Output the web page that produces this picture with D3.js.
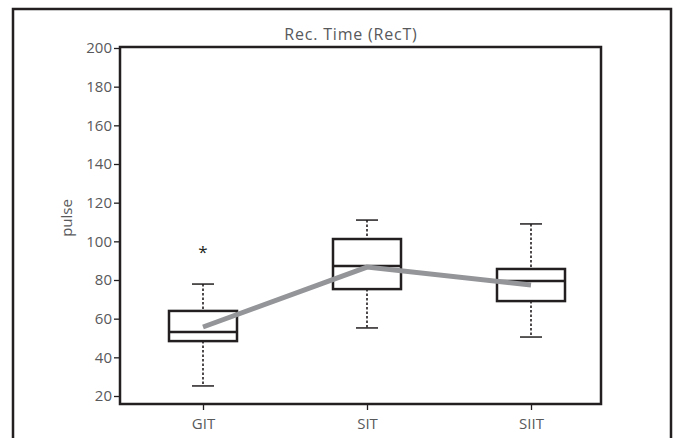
<!DOCTYPE html>
<html>
<head>
<meta charset="utf-8">
<script src="https://cdn.jsdelivr.net/npm/d3@7"></script>
<style>
  html, body { margin: 0; padding: 0; background: #fff; }
  svg text { font-family: "Open Sans", "Noto Sans", sans-serif; }
</style>
</head>
<body>
<svg id="chart" width="683" height="438"></svg>
<script>
const categories = ["GIT", "SIT", "SIIT"];
const whiskerLow  = [25.2, 55.2, 50.5];
const boxLow      = [48.4, 75.3, 69.1];
const medians     = [53.1, 87.2, 79.5];
const boxHigh     = [64, 101.2, 85.7];
const whiskerHigh = [77.9, 111, 109];
const means       = [55.7, 86.7, 77.4];
const outliers    = [{cat: "GIT", value: 95.5}];
const yTicks      = [20, 40, 60, 80, 100, 120, 140, 160, 180, 200];
const title = "Rec. Time (RecT)";
const yLabel = "pulse";

const svg = d3.select("#chart");
const frame = {left: 120, right: 601, top: 47, bottom: 404};
const dark = "#231f20";
const textCol = "#58595b";

// outer border
svg.append("rect").attr("x", 13).attr("y", 9).attr("width", 658).attr("height", 440)
  .attr("fill", "none").attr("stroke", dark).attr("stroke-width", 2.5);

const x = d3.scalePoint().domain(categories).range([121, 613]).padding(0.5);
const y = d3.scaleLinear().domain([20, 200]).range([396, 48]);

// plot frame
svg.append("rect").attr("x", frame.left).attr("y", frame.top)
  .attr("width", frame.right - frame.left).attr("height", frame.bottom - frame.top)
  .attr("fill", "none").attr("stroke", dark).attr("stroke-width", 2.5);

// y axis ticks
const yAxis = d3.axisLeft(y).tickValues(yTicks).tickSize(6).tickPadding(2);
const gy = svg.append("g").attr("transform", `translate(${frame.left},0)`).call(yAxis);
gy.select(".domain").remove();
gy.selectAll(".tick line").attr("stroke", dark).attr("stroke-width", 1.3);
gy.selectAll(".tick text").attr("fill", textCol).attr("font-size", 15).attr("font-family", "Open Sans");

// x axis ticks
const xAxis = d3.axisBottom(x).tickSize(6).tickPadding(8);
const gx = svg.append("g").attr("transform", `translate(0,${frame.bottom})`).call(xAxis);
gx.select(".domain").remove();
gx.selectAll(".tick line").attr("stroke", dark).attr("stroke-width", 1.3);
gx.selectAll(".tick text").attr("fill", textCol).attr("font-size", 15).attr("font-family", "Open Sans");

// title
svg.append("text").attr("x", 351).attr("y", 40).attr("text-anchor", "middle")
  .attr("fill", textCol).attr("font-size", 16).attr("letter-spacing", 0.8).text(title);

// y label
svg.append("text").attr("transform", "translate(72,218) rotate(-90)")
  .attr("text-anchor", "middle").attr("fill", textCol).attr("font-size", 15).text(yLabel);

const boxW = 68, capW = 22;
const data = categories.map((c, i) => ({c, wl: whiskerLow[i], bl: boxLow[i], md: medians[i], bh: boxHigh[i], wh: whiskerHigh[i], mean: means[i]}));
const cx = c => x(c);

const g = svg.append("g");
// whiskers
g.selectAll(".wup").data(data).join("line")
  .attr("x1", d => cx(d.c)).attr("x2", d => cx(d.c))
  .attr("y1", d => y(d.wh)).attr("y2", d => y(d.bh))
  .attr("stroke", dark).attr("stroke-width", 1.6).attr("stroke-dasharray", "2.5,2");
g.selectAll(".wdn").data(data).join("line")
  .attr("x1", d => cx(d.c)).attr("x2", d => cx(d.c))
  .attr("y1", d => y(d.bl)).attr("y2", d => y(d.wl))
  .attr("stroke", dark).attr("stroke-width", 1.6).attr("stroke-dasharray", "2.5,2");
// caps
g.selectAll(".capH").data(data).join("line")
  .attr("x1", d => cx(d.c) - capW / 2).attr("x2", d => cx(d.c) + capW / 2)
  .attr("y1", d => y(d.wh)).attr("y2", d => y(d.wh))
  .attr("stroke", dark).attr("stroke-width", 1.5);
g.selectAll(".capL").data(data).join("line")
  .attr("x1", d => cx(d.c) - capW / 2).attr("x2", d => cx(d.c) + capW / 2)
  .attr("y1", d => y(d.wl)).attr("y2", d => y(d.wl))
  .attr("stroke", dark).attr("stroke-width", 1.5);
// boxes
g.selectAll(".box").data(data).join("rect")
  .attr("x", d => cx(d.c) - boxW / 2).attr("width", boxW)
  .attr("y", d => y(d.bh)).attr("height", d => y(d.bl) - y(d.bh))
  .attr("fill", "none").attr("stroke", dark).attr("stroke-width", 2.5);
// medians
g.selectAll(".med").data(data).join("line")
  .attr("x1", d => cx(d.c) - boxW / 2).attr("x2", d => cx(d.c) + boxW / 2)
  .attr("y1", d => y(d.md)).attr("y2", d => y(d.md))
  .attr("stroke", dark).attr("stroke-width", 2.5);
// outliers
g.selectAll(".out").data(outliers).join("text")
  .attr("x", d => cx(d.cat)).attr("y", d => y(d.value) + 8)
  .attr("text-anchor", "middle").attr("fill", dark).attr("font-size", 17).text("*");

// mean line
const line = d3.line().x(d => cx(d.c)).y(d => y(d.mean));
svg.append("path").datum(data).attr("d", line)
  .attr("fill", "none").attr("stroke", "#939598").attr("stroke-width", 5);
</script>
</body>
</html>
